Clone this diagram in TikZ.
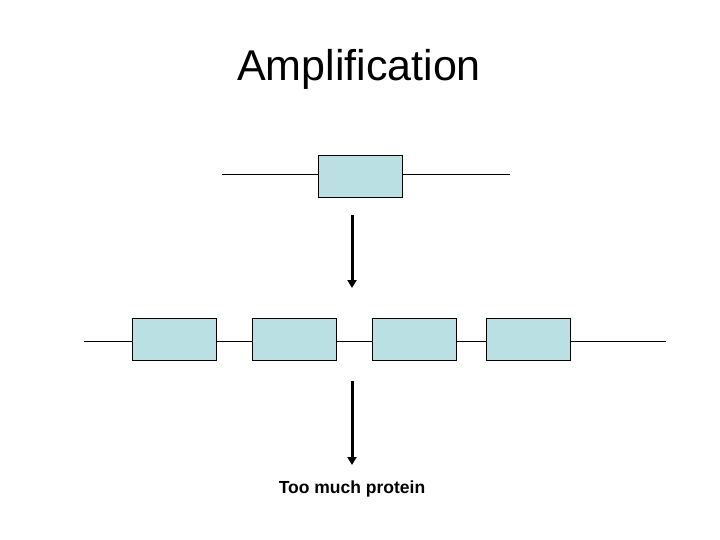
\documentclass[tikz,border=0pt]{standalone}
\usepackage{fontspec}
\setmainfont{Liberation Sans}
\usetikzlibrary{arrows.meta}
\definecolor{boxfill}{HTML}{BBE0E3}
\begin{document}
\begin{tikzpicture}[x=1pt,y=-1pt,
  gene/.style={draw=black,line width=1pt,fill=boxfill,minimum width=84pt,minimum height=42pt,inner sep=0pt},
  dna/.style={line width=0.8pt},
  arr/.style={line width=3pt,-{Triangle[length=8pt,width=9pt]}}]
\useasboundingbox (0,0) rectangle (720,540);
\node (title) at (359,69) {\fontsize{43}{50}\selectfont Amplification};
\coordinate (tl) at (222,174); \coordinate (tr) at (510,174);
\draw[dna] (tl) -- (tr);
\node[gene] (g0) at (360,177) {};
\coordinate (a1s) at (352,215); \coordinate (a1e) at (352,288);
\draw[arr] (a1s) -- (a1e);
\coordinate (bl) at (84,341); \coordinate (br) at (666,341);
\draw[dna] (bl) -- (br);
\node[gene] (g1) at (174,339) {};
\node[gene] (g2) at (294,339) {};
\node[gene] (g3) at (414,339) {};
\node[gene] (g4) at (528,339) {};
\coordinate (a2s) at (352,381); \coordinate (a2e) at (352,465);
\draw[arr] (a2s) -- (a2e);
\node (txt) at (352,489) {\fontsize{17.5}{20}\selectfont\bfseries Too much protein};
\end{tikzpicture}
\end{document}
